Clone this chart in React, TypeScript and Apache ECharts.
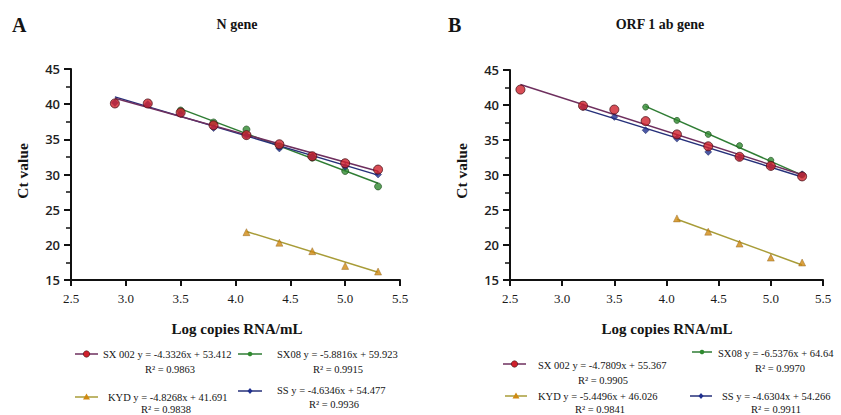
import React, { useEffect, useRef } from "react";
import * as echarts from "echarts";

// ---------- Panel A (N gene) ----------
const aSX002X = [2.9, 3.2, 3.5, 3.8, 4.1, 4.4, 4.7, 5.0, 5.3];
const aSX002Y = [40.1, 40.1, 38.8, 37.0, 35.6, 34.3, 32.6, 31.6, 30.7];
const aSX08X = [3.5, 3.8, 4.1, 4.4, 4.7, 5.0, 5.3];
const aSX08Y = [39.1, 37.4, 36.4, 34.0, 32.4, 30.5, 28.3];
const aSSX = [2.9, 3.2, 3.5, 3.8, 4.1, 4.4, 4.7, 5.0, 5.3];
const aSSY = [40.2, 40.0, 38.6, 36.6, 35.5, 33.7, 32.5, 31.1, 30.0];
const aKYDX = [4.1, 4.4, 4.7, 5.0, 5.3];
const aKYDY = [21.8, 20.3, 19.1, 17.0, 16.2];
// trend lines: [slope, intercept, xStart, xEnd]
const aSX002Fit = [-4.3326, 53.412, 2.9, 5.3];
const aSX08Fit = [-5.8816, 59.923, 3.5, 5.3];
const aSSFit = [-4.6346, 54.477, 2.9, 5.3];
const aKYDFit = [-4.8268, 41.691, 4.1, 5.3];

// ---------- Panel B (ORF 1 ab gene) ----------
const bSX002X = [2.6, 3.2, 3.5, 3.8, 4.1, 4.4, 4.7, 5.0, 5.3];
const bSX002Y = [42.2, 39.9, 39.35, 37.7, 35.8, 34.1, 32.6, 31.3, 29.8];
const bSX08X = [3.8, 4.1, 4.4, 4.7, 5.0, 5.3];
const bSX08Y = [39.7, 37.8, 35.8, 34.2, 32.1, 30.0];
const bSSX = [3.2, 3.5, 3.8, 4.1, 4.4, 4.7, 5.0, 5.3];
const bSSY = [39.7, 38.3, 36.4, 35.2, 33.3, 32.5, 31.2, 30.1];
const bKYDX = [4.1, 4.4, 4.7, 5.0, 5.3];
const bKYDY = [23.8, 21.9, 20.2, 18.2, 17.5];
const bSX002Fit = [-4.7809, 55.367, 2.6, 5.3];
const bSX08Fit = [-6.5376, 64.64, 3.8, 5.3];
const bSSFit = [-4.6304, 54.266, 3.2, 5.3];
const bKYDFit = [-5.4496, 46.026, 4.1, 5.3];

// ---------- Texts ----------
const panelLetters = ["A", "B"];
const panelTitles = ["N gene", "ORF 1 ab gene"];
const xAxisTitle = "Log copies RNA/mL";
const yAxisTitle = "Ct value";
const legendA = [
  "SX 002 y = -4.3326x + 53.412", "R² = 0.9863",
  "SX08 y = -5.8816x + 59.923", "R² = 0.9915",
  "KYD y = -4.8268x + 41.691", "R² = 0.9838",
  "SS y = -4.6346x + 54.477", "R² = 0.9936",
];
const legendB = [
  "SX 002 y = -4.7809x + 55.367", "R² = 0.9905",
  "SX08 y = -6.5376x + 64.64", "R² = 0.9970",
  "KYD y = -5.4496x + 46.026", "R² = 0.9841",
  "SS y = -4.6304x + 54.266", "R² = 0.9911",
];

const C = {
  sx002: "#d0202c",
  sx002Line: "#6e2f5e",
  sx08: "#2f8a2f",
  sx08Line: "#2f7d34",
  ss: "#1f2f8f",
  ssLine: "#26307a",
  kyd: "#d08a12",
  kydLine: "#a89c38",
};

const zip = (xs: number[], ys: number[]) => xs.map((x, i) => [x, ys[i]]);
const fit = (f: number[]) => [
  [f[2], f[0] * f[2] + f[1]],
  [f[3], f[0] * f[3] + f[1]],
];

export default function App() {
  const ref = useRef<HTMLDivElement>(null);
  useEffect(() => {
    document.body.style.margin = "0";
    const chart = echarts.init(ref.current!, null, { renderer: "svg" });

    const xAxisCommon = {
      type: "value",
      min: 2.5,
      max: 5.5,
      interval: 0.5,
      axisLine: { show: true, onZero: false, lineStyle: { color: "#111", width: 2 } },
      axisTick: { show: true, length: 6, lineStyle: { color: "#111", width: 2 } },
      splitLine: { show: false },
      axisLabel: {
        margin: 12,
        color: "#1a1a1a",
        fontSize: 13,
        fontFamily: "Liberation Serif",
        formatter: (v: number) => v.toFixed(1),
      },
    };
    const yAxisCommon = {
      type: "value",
      min: 15,
      max: 45,
      interval: 5,
      axisLine: { show: true, onZero: false, lineStyle: { color: "#111", width: 2 } },
      axisTick: { show: true, length: 7, lineStyle: { color: "#111", width: 2 } },
      minorTick: { show: true, splitNumber: 2, length: 5, lineStyle: { color: "#111", width: 1.5 } },
      splitLine: { show: false },
      axisLabel: { margin: 11, color: "#222", fontSize: 13, fontFamily: "Open Sans", fontWeight: 600 },
    };

    const mkSeries = (idx: number, sets: any[]) => {
      const out: any[] = [];
      sets.forEach((s) => {
        out.push({
          type: "line",
          xAxisIndex: idx,
          yAxisIndex: idx,
          data: fit(s.fit),
          symbol: "none",
          lineStyle: { color: s.line, width: 1.5 },
          z: 2,
        });
      });
      sets.forEach((s) => {
        out.push({
          type: "scatter",
          xAxisIndex: idx,
          yAxisIndex: idx,
          data: zip(s.x, s.y),
          symbol: s.symbol,
          symbolSize: s.size,
          itemStyle: { color: s.color, borderColor: s.border, borderWidth: s.bw },
          z: s.z,
        });
      });
      return out;
    };

    const setsA = [
      { fit: aKYDFit, line: C.kydLine, x: aKYDX, y: aKYDY, symbol: "triangle", size: 7, color: C.kyd, border: "#8a5a10", bw: 0.5, z: 3 },
      { fit: aSX08Fit, line: C.sx08Line, x: aSX08X, y: aSX08Y, symbol: "circle", size: 7, color: C.sx08, border: "#1a4a1a", bw: 0.8, z: 3 },
      { fit: aSSFit, line: C.ssLine, x: aSSX, y: aSSY, symbol: "diamond", size: 7, color: C.ss, border: "#101850", bw: 0.5, z: 4 },
      { fit: aSX002Fit, line: C.sx002Line, x: aSX002X, y: aSX002Y, symbol: "circle", size: 9, color: C.sx002, border: "#4a1018", bw: 1, z: 5 },
    ];
    const setsB = [
      { fit: bKYDFit, line: C.kydLine, x: bKYDX, y: bKYDY, symbol: "triangle", size: 7, color: C.kyd, border: "#8a5a10", bw: 0.5, z: 3 },
      { fit: bSX08Fit, line: C.sx08Line, x: bSX08X, y: bSX08Y, symbol: "circle", size: 6, color: C.sx08, border: "#1a4a1a", bw: 0.8, z: 3 },
      { fit: bSSFit, line: C.ssLine, x: bSSX, y: bSSY, symbol: "diamond", size: 7, color: C.ss, border: "#101850", bw: 0.5, z: 4 },
      { fit: bSX002Fit, line: C.sx002Line, x: bSX002X, y: bSX002Y, symbol: "circle", size: 9, color: C.sx002, border: "#4a1018", bw: 1, z: 5 },
    ];

    const serif = "Liberation Serif";
    const txt = (x: number, y: number, text: string, fontSize: number, opts: any = {}) => ({
      type: "text",
      x,
      y,
      style: {
        text,
        fontSize,
        fontFamily: serif,
        fontWeight: opts.bold ? "bold" : "normal",
        fill: "#141414",
        align: opts.align || "left",
        verticalAlign: "middle",
      },
      rotation: opts.rotation || 0,
    });

    const legendSym = (x0: number, x1: number, y: number, kind: string, lineColor: string, color: string) => {
      const cx = (x0 + x1) / 2;
      const els: any[] = [
        { type: "line", shape: { x1: x0, y1: y, x2: x1, y2: y }, style: { stroke: lineColor, lineWidth: 1.5 } },
      ];
      if (kind === "circle") {
        els.push({ type: "circle", shape: { cx, cy: y, r: 3.2 }, style: { fill: color, stroke: "#3a1010", lineWidth: 0.6 } });
      } else if (kind === "small") {
        els.push({ type: "circle", shape: { cx, cy: y, r: 2.3 }, style: { fill: color } });
      } else if (kind === "triangle") {
        els.push({ type: "polygon", shape: { points: [[cx, y - 3.5], [cx + 3.5, y + 2.5], [cx - 3.5, y + 2.5]] }, style: { fill: color } });
      } else {
        els.push({ type: "polygon", shape: { points: [[cx, y - 3], [cx + 2.5, y], [cx, y + 3], [cx - 2.5, y]] }, style: { fill: color } });
      }
      return els;
    };

    const legendFont = 10.5;
    const graphics: any[] = [
      txt(12, 25, panelLetters[0], 20, { bold: true }),
      txt(448, 25, panelLetters[1], 20, { bold: true }),
      txt(237, 24, panelTitles[0], 14, { bold: true, align: "center" }),
      txt(660, 24, panelTitles[1], 14, { bold: true, align: "center" }),
      txt(237, 329, xAxisTitle, 15, { bold: true, align: "center" }),
      txt(667, 329, xAxisTitle, 15, { bold: true, align: "center" }),
      txt(22, 171, yAxisTitle, 15.5, { bold: true, align: "center", rotation: Math.PI / 2 }),
      txt(461, 171, yAxisTitle, 15.5, { bold: true, align: "center", rotation: Math.PI / 2 }),
      // legend A
      ...legendSym(75, 98, 354, "circle", C.sx002Line, C.sx002),
      txt(103, 354, legendA[0], legendFont),
      txt(170, 369, legendA[1], legendFont, { align: "center" }),
      ...legendSym(238, 262, 354, "small", C.sx08Line, C.sx08),
      txt(277, 354, legendA[2], legendFont),
      txt(338, 369, legendA[3], legendFont, { align: "center" }),
      ...legendSym(75, 98, 397, "triangle", C.kydLine, C.kyd),
      txt(108, 397, legendA[4], legendFont),
      txt(166, 409, legendA[5], legendFont, { align: "center" }),
      ...legendSym(238, 262, 391, "diamond", C.ssLine, C.ss),
      txt(277, 390, legendA[6], legendFont),
      txt(334, 404, legendA[7], legendFont, { align: "center" }),
      // legend B
      ...legendSym(503, 526, 364, "circle", C.sx002Line, C.sx002),
      txt(538, 365, legendB[0], legendFont),
      txt(603, 380, legendB[1], legendFont, { align: "center" }),
      ...legendSym(692, 712, 352, "small", C.sx08Line, C.sx08),
      txt(718, 353, legendB[2], legendFont),
      txt(780, 368, legendB[3], legendFont, { align: "center" }),
      ...legendSym(505, 527, 396, "triangle", C.kydLine, C.kyd),
      txt(538, 396, legendB[4], legendFont),
      txt(600, 409, legendB[5], legendFont, { align: "center" }),
      ...legendSym(690, 712, 396, "diamond", C.ssLine, C.ss),
      txt(722, 396, legendB[6], legendFont),
      txt(776, 409, legendB[7], legendFont, { align: "center" }),
    ];

    chart.setOption({
      animation: false,
      backgroundColor: "#ffffff",
      grid: [
        { left: 71, top: 69, width: 329, height: 211, containLabel: false },
        { left: 510, top: 70, width: 313, height: 210, containLabel: false },
      ],
      xAxis: [
        { ...xAxisCommon, gridIndex: 0 },
        { ...xAxisCommon, gridIndex: 1 },
      ],
      yAxis: [
        { ...yAxisCommon, gridIndex: 0 },
        { ...yAxisCommon, gridIndex: 1 },
      ],
      series: [...mkSeries(0, setsA), ...mkSeries(1, setsB)],
      graphic: graphics,
    });
    return () => chart.dispose();
  }, []);
  return <div ref={ref} style={{ width: 841, height: 415 }} />;
}
